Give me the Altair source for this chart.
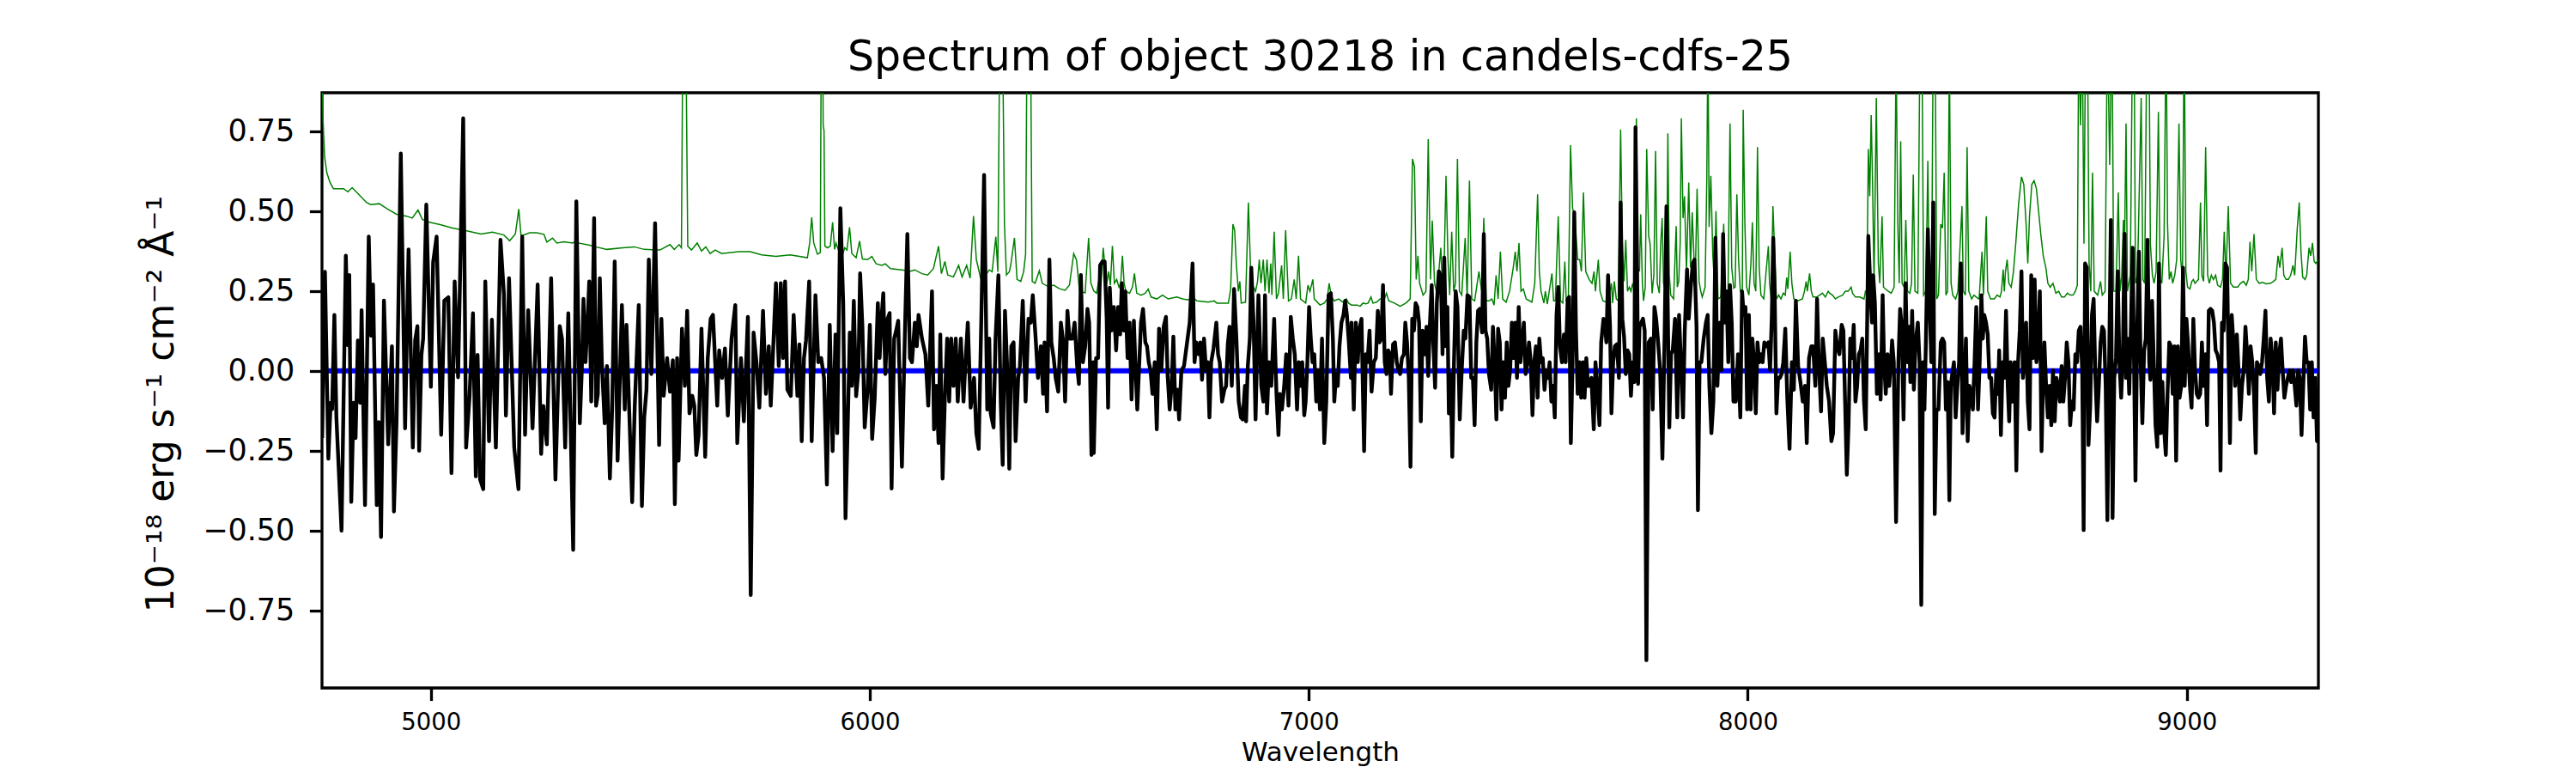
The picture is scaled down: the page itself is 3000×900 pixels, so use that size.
import altair as alt
import pandas as pd

TITLE = "Spectrum of object 30218 in candels-cdfs-25"
X_LABEL = "Wavelength"
Y_LABEL = "10⁻¹⁸ erg s⁻¹ cm⁻² Å⁻¹"
X_TICKS = [5000, 6000, 7000, 8000, 9000]
Y_TICKS = [-0.75, -0.5, -0.25, 0.0, 0.25, 0.5, 0.75]
X_RANGE = [4752, 9300]
Y_RANGE = [-0.992, 0.870]

flux_a = [(4752.3,-0.21),(4758.7,0.31),(4766.5,-0.275),(4771.7,-0.10),(4775.0,-0.12),(4780.2,0.175),(4784.8,-0.146),(4796.5,-0.50),(4806.3,0.36),(4810.9,0.08),(4814.1,0.30),(4818.7,-0.41),(4823.9,-0.10),(4828.5,-0.21),(4833.7,0.095),(4838.9,-0.10),(4842.2,0.19),(4850.0,-0.42),(4858.5,0.42),(4863.7,0.11),(4868.3,0.27),(4876.8,-0.42),(4881.3,-0.16),(4886.5,-0.52),(4893.1,0.22),(4902.8,-0.23),(4911.3,0.077),(4915.9,-0.44),(4921.8,-0.16),(4931.5,0.68),(4941.3,-0.18),(4949.2,0.38),(4958.9,-0.24),(4964.2,0.095),(4969.4,0.14),(4973.3,-0.25),(4978.5,0.05),(4982.4,0.10),(4989.6,0.52),(5000.0,-0.05),(5005.2,0.34),(5013.1,0.42),(5023.5,-0.20),(5030.7,0.22),(5039.8,0.23),(5047.0,-0.32),(5054.2,0.28),(5062.0,-0.02),(5073.7,0.79),(5080.3,-0.24),(5088.1,-0.08),(5095.9,0.18),(5102.4,-0.33),(5106.4,0.05),(5112.2,-0.34),(5119.4,-0.37),(5124.0,0.28),(5132.5,-0.22),(5139.0,0.16),(5148.1,-0.24),(5158.6,0.41),(5166.4,0.24),(5171.0,-0.14),(5178.1,0.29),(5189.9,-0.24),(5199.6,-0.37),(5208.1,0.42),(5214.6,-0.20),(5221.8,0.19),(5231.6,-0.18),(5243.3,0.27),(5251.2,-0.26),(5256.4,-0.11),(5264.2,-0.23),(5274.0,0.29),(5283.8,-0.34),(5293.6,0.14),(5298.8,0.10),(5306.0,-0.24),(5313.1,0.18),(5324.2,-0.56),(5331.4,0.53)]
flux_b = [(5339.3,-0.164),(5343.8,0.0),(5347.7,0.225),(5352.3,0.027),(5356.9,0.15),(5360.8,0.28),(5365.4,-0.096),(5371.9,0.478),(5376.4,-0.109),(5380.4,-0.072),(5384.9,0.29),(5389.5,0.027),(5396.0,-0.164),(5401.2,0.015),(5407.8,-0.337),(5413.0,-0.121),(5418.8,0.342),(5425.4,-0.281),(5435.2,0.206),(5441.7,-0.121),(5445.6,0.144),(5452.1,-0.133),(5458.6,-0.411),(5464.5,-0.109),(5473.6,0.206),(5480.8,-0.423),(5486.0,-0.146),(5491.2,-0.059),(5496.5,0.348),(5502.3,-0.01),(5510.8,0.462),(5520.0,-0.232),(5525.2,0.163),(5530.4,-0.078),(5538.2,0.04),(5544.7,-0.065),(5551.3,0.033),(5555.8,-0.417),(5561.0,0.04),(5564.3,-0.281),(5572.1,0.132),(5578.7,-0.047),(5583.9,0.188),(5589.1,-0.133),(5595.6,-0.078),(5600.2,-0.109),(5604.7,-0.263),(5610.0,-0.201),(5616.5,0.132),(5625.0,-0.269),(5630.8,0.04),(5637.4,0.163),(5642.6,0.175),(5652.4,-0.109),(5656.9,0.064),(5663.5,-0.022),(5670.0,0.07),(5676.5,-0.14),(5685.0,0.101),(5693.5,0.206),(5698.0,-0.226),(5706.5,0.04),(5713.0,-0.158),(5722.2,0.169),(5728.7,-0.701),(5735.2,0.12),(5741.7,0.027),(5748.3,-0.115),(5756.7,0.188),(5763.3,-0.072),(5769.8,0.077),(5774.3,-0.109),(5786.1,0.274),(5792.6,0.015),(5797.2,0.274),(5802.4,0.04),(5807.0,0.28),(5812.2,-0.059),(5820.0,-0.078),(5826.5,0.175),(5835.0,-0.078),(5839.6,0.083),(5844.8,-0.22),(5850.0,0.04),(5854.6,0.095),(5861.8,0.28),(5867.6,-0.22),(5876.1,0.237),(5882.6,0.027),(5889.2,0.04),(5895.7,-0.022),(5902.2,-0.356),(5908.7,0.144),(5915.2,-0.251),(5921.8,0.114)]
flux_c = [(5925.7,-0.195),(5932.9,0.509),(5939.4,0.21),(5944.6,-0.461),(5950.5,-0.121),(5954.4,0.12),(5959.0,-0.047),(5963.5,0.219),(5968.8,-0.079),(5974.0,0.002),(5977.9,0.305),(5983.1,0.138),(5988.3,-0.177),(5994.9,-0.059),(6000.1,0.144),(6005.3,-0.213),(6011.2,-0.084),(6018.3,0.212),(6022.3,0.04),(6026.2,0.157),(6030.7,0.243),(6035.3,-0.01),(6040.5,0.163),(6045.1,0.181),(6049.6,-0.368),(6055.5,0.101),(6060.1,0.126),(6064.6,0.157),(6073.1,-0.30),(6079.6,0.101),(6085.5,0.428),(6091.4,0.04),(6096.0,0.027),(6102.5,0.151),(6107.0,0.077),(6111.0,0.175),(6118.8,0.101),(6126.6,0.052),(6133.1,-0.109),(6141.6,0.249),(6146.2,-0.183),(6151.4,-0.047),(6156.6,-0.226),(6160.5,0.114),(6165.8,-0.337),(6171.0,-0.084),(6176.2,0.101),(6180.8,-0.096),(6185.3,0.101),(6190.5,-0.047),(6195.8,0.101),(6200.3,-0.096),(6207.5,0.101),(6213.4,-0.096),(6217.9,0.027),(6223.2,0.151),(6229.7,-0.115),(6237.5,-0.022),(6242.7,-0.195),(6248.0,-0.244),(6254.5,0.200),(6260.3,0.613),(6267.5,-0.121),(6272.1,0.101),(6275.3,-0.133),(6281.9,-0.177),(6286.4,0.101),(6292.9,0.299),(6298.2,-0.096),(6302.7,-0.294),(6307.9,0.188),(6312.5,0.027),(6317.7,-0.306),(6322.3,0.077),(6327.5,0.089),(6332.1,-0.22),(6338.0,-0.022),(6341.9,0.015),(6348.4,0.219),(6354.9,-0.096),(6361.4,0.163),(6366.7,0.151),(6371.2,0.237),(6377.8,0.101),(6383.0,-0.022),(6389.5,0.077),(6394.7,-0.072),(6398.0,0.089),(6403.8,-0.127),(6409.1,0.348),(6413.6,0.089),(6418.9,0.04),(6423.4,-0.022),(6429.3,-0.065),(6435.2,0.151),(6439.7,0.101),(6444.9,-0.096),(6450.2,0.188),(6454.7,0.101),(6461.3,0.101),(6466.5,0.151),(6472.3,0.015),(6476.3,-0.041),(6480.8,0.30),(6485.4,0.027),(6490.6,0.077),(6495.8,0.194),(6499.7,0.151),(6504.9,-0.263),(6508.9,0.027)]
flux_d = [(6510.2,-0.257),(6515.4,0.04),(6520.0,0.04),(6524.6,0.33),(6529.8,0.342),(6535.0,0.342),(6539.6,0.163),(6542.8,-0.115),(6546.7,0.26),(6550.6,0.126),(6555.9,0.2),(6561.1,0.064),(6565.6,0.2),(6570.2,0.114),(6574.1,0.274),(6578.7,0.126),(6582.0,0.249),(6587.2,0.04),(6591.7,0.151),(6596.3,-0.09),(6601.5,0.157),(6604.8,0.027),(6609.3,-0.121),(6613.3,0.009),(6617.8,0.151),(6622.4,0.194),(6627.6,0.089),(6631.5,0.077),(6635.4,0.027),(6639.4,0.002),(6643.9,-0.072),(6649.1,0.027),(6653.7,-0.183),(6658.9,0.132),(6664.1,0.002),(6669.4,0.138),(6674.6,0.169),(6678.5,-0.016),(6683.1,-0.121),(6687.6,-0.047),(6691.5,0.107),(6696.1,-0.121),(6700.7,-0.059),(6704.6,-0.152),(6709.8,0.002),(6715.7,0.015),(6722.2,0.083),(6728.7,0.151),(6735.2,0.336),(6739.8,0.027),(6743.7,0.089),(6749.0,0.052),(6752.9,0.089),(6756.8,-0.028),(6761.3,0.101),(6765.9,0.002),(6769.8,0.027),(6773.7,-0.146),(6777.6,0.027),(6782.9,0.07),(6789.4,0.151),(6793.3,0.052),(6797.2,0.027),(6802.4,-0.096),(6807.7,-0.059),(6811.6,-0.047),(6815.5,0.083),(6819.4,0.138),(6824.6,-0.047),(6829.8,0.256),(6835.1,0.101),(6840.3,-0.096),(6845.5,-0.146),(6849.4,-0.152),(6854.6,-0.047),(6857.2,-0.158),(6861.1,0.015),(6865.7,0.101),(6869.0,0.323),(6874.2,0.151),(6878.7,-0.152),(6885.3,0.237),(6891.8,-0.047),(6896.4,-0.096),(6900.3,0.237),(6904.8,-0.133),(6909.4,0.027),(6914.6,-0.047),(6921.1,0.163),(6926.4,-0.072),(6930.9,-0.201),(6934.2,-0.072),(6938.8,-0.121),(6944.0,-0.047),(6948.5,0.052),(6953.8,-0.109),(6959.0,0.169),(6963.6,0.101),(6968.1,0.052),(6973.3,-0.121),(6977.3,0.027),(6981.2,-0.047),(6985.1,0.027),(6989.6,-0.139),(6992.9,-0.096),(6996.8,0.027),(7000.7,0.2),(7004.6,0.101),(7008.6,0.027),(7012.5,0.052),(7017.0,-0.096),(7020.9,0.002),(7025.5,-0.121),(7030.1,0.101),(7035.3,-0.226),(7039.9,-0.096),(7045.1,0.237),(7050.3,0.243),(7054.9,0.101),(7058.1,-0.096),(7062.1,-0.01),(7066.0,-0.047),(7069.9,0.077),(7074.4,0.151),(7079.0,0.175),(7082.9,0.219),(7086.8,0.175),(7090.7,0.101),(7096.0,-0.022)]
flux_e = [(7097.3,0.151),(7102.5,-0.121),(7107.1,0.151),(7111.6,0.027),(7115.6,0.132),(7120.1,0.163),(7126.0,-0.251),(7129.9,0.052),(7133.8,0.027),(7138.4,0.126),(7143.0,-0.065),(7148.2,0.027),(7152.7,0.04),(7157.3,0.188),(7161.2,0.089),(7165.1,0.101),(7169.1,0.268),(7173.0,0.027),(7176.9,-0.01),(7180.8,0.064),(7184.7,0.052),(7187.3,-0.072),(7191.9,0.083),(7196.4,0.089),(7200.4,0.027),(7204.3,0.002),(7208.2,-0.01),(7212.1,0.04),(7216.7,0.052),(7219.9,0.151),(7223.8,0.089),(7227.8,-0.022),(7231.7,-0.30),(7235.6,0.163),(7239.5,0.126),(7243.4,0.212),(7247.3,0.2),(7251.2,0.151),(7255.2,-0.158),(7259.1,0.126),(7264.3,0.052),(7268.2,0.138),(7272.1,-0.016),(7276.0,0.151),(7280.0,0.268),(7283.2,0.101),(7287.8,-0.053),(7291.7,0.212),(7296.2,0.311),(7300.8,0.298),(7304.7,0.052),(7308.6,0.354),(7312.6,0.077),(7315.8,0.2),(7319.1,-0.133),(7323.0,-0.01),(7326.9,-0.269),(7330.8,0.027),(7334.7,0.249),(7338.7,0.2),(7343.9,-0.152),(7348.4,0.002),(7353.0,0.126),(7356.9,0.101),(7361.5,0.237),(7366.0,0.231),(7370.0,-0.022),(7373.9,-0.022),(7377.8,-0.170),(7381.7,0.089),(7385.6,0.188),(7389.5,0.194),(7394.8,0.12),(7398.7,0.428),(7402.6,0.126),(7406.5,0.101),(7410.4,-0.01),(7415.6,-0.059),(7419.5,0.138),(7423.5,0.027),(7427.4,-0.152),(7431.3,0.132),(7435.2,0.089),(7439.1,-0.121),(7443.0,0.027),(7447.0,-0.084),(7450.9,0.089),(7454.8,-0.047),(7458.7,0.002),(7462.6,0.151),(7466.5,0.04),(7470.4,0.151),(7474.3,-0.022),(7478.2,0.2),(7482.2,0.027),(7486.1,0.089),(7490.0,0.151),(7493.9,-0.01),(7497.8,0.027),(7501.7,0.089),(7505.6,0.027),(7509.6,-0.139),(7513.5,0.027),(7517.4,0.077),(7521.3,-0.084),(7525.2,0.101),(7529.1,0.027),(7533.0,0.04),(7537.0,-0.059),(7540.9,0.002),(7544.8,-0.022),(7548.7,0.027),(7552.6,-0.096),(7556.5,-0.047),(7560.4,-0.146),(7564.4,0.175),(7568.3,0.262),(7572.2,0.077),(7576.7,0.027),(7581.3,0.114),(7585.2,0.027),(7589.8,0.225),(7593.1,0.231),(7597.0,-0.226),(7600.9,0.027),(7604.8,0.496),(7608.7,0.126),(7612.6,-0.072),(7616.5,0.027),(7620.5,-0.084),(7624.4,0.027),(7628.3,-0.084),(7632.2,0.04),(7636.1,-0.047),(7640.0,-0.047),(7643.9,-0.022),(7649.2,-0.183),(7653.1,0.027),(7657.0,-0.047),(7662.2,-0.170),(7666.1,0.089),(7671.3,0.163),(7675.2,0.138),(7677.9,0.089),(7681.8,0.299)]
flux_f = [(7686.3,0.138),(7689.5,-0.133),(7693.4,0.027),(7697.3,0.077),(7701.9,0.083),(7706.5,-0.022),(7710.4,0.527),(7714.3,0.163),(7718.2,0.107),(7722.1,-0.01),(7726.1,0.064),(7730.0,0.052),(7733.9,-0.078),(7737.8,0.027),(7741.7,-0.035),(7744.3,0.762),(7747.6,0.373),(7750.2,-0.041),(7753.4,0.138),(7757.4,0.151),(7761.3,0.163),(7765.2,0.126),(7769.1,-0.905),(7774.3,0.089),(7779.5,0.101),(7783.5,-0.121),(7787.4,0.2),(7791.3,0.163),(7795.2,0.101),(7800.4,0.002),(7805.6,-0.275),(7810.8,0.126),(7814.8,0.515),(7818.7,0.101),(7821.3,-0.177),(7825.2,0.052),(7829.1,0.064),(7834.3,0.163),(7839.5,-0.146),(7843.5,0.175),(7847.4,0.04),(7852.6,-0.146),(7856.5,0.126),(7861.7,0.317),(7865.6,0.163),(7870.2,0.262),(7874.8,0.336),(7878.7,0.348),(7883.3,0.138),(7886.5,-0.436),(7890.4,0.027),(7894.3,0.027),(7899.6,0.101),(7904.8,0.151),(7908.7,0.175),(7912.6,-0.047),(7917.2,-0.195),(7921.7,-0.096),(7926.3,0.416),(7930.9,-0.047),(7936.1,0.151),(7940.0,0.002),(7943.9,0.428),(7947.8,0.151),(7951.7,0.249),(7955.7,0.027),(7959.6,0.268),(7963.5,0.151),(7967.4,-0.096),(7972.6,-0.096),(7977.8,0.052),(7983.1,-0.146),(7987.0,0.249),(7990.9,0.175),(7994.8,0.2),(7998.7,-0.121),(8002.6,0.175),(8006.5,-0.121),(8010.5,0.101),(8014.4,0.027),(8018.3,-0.133),(8022.2,0.089),(8026.1,0.027),(8030.0,0.052),(8033.9,0.027),(8037.8,0.089),(8041.8,0.077),(8047.0,0.089),(8050.9,0.002),(8054.8,0.169),(8058.1,0.416),(8061.3,0.249),(8065.3,-0.133),(8069.2,-0.022),(8073.1,-0.022),(8077.0,-0.01),(8080.9,0.027),(8085.5,0.132),(8090.0,-0.084),(8095.2,-0.244),(8100.5,0.027),(8105.0,-0.059),(8109.6,0.219),(8114.8,0.015),(8120.0,-0.035),(8125.3,-0.096),(8130.5,-0.047),(8134.4,-0.226),(8139.6,0.04),(8144.8,0.077),(8148.7,0.077),(8154.0,-0.047),(8157.9,0.225),(8161.8,0.027),(8167.0,-0.127),(8170.9,0.101),(8174.8,0.04),(8180.1,-0.047),(8185.3,-0.096),(8190.5,-0.22),(8194.4,-0.195),(8199.6,0.126),(8203.5,0.077),(8208.8,0.052),(8214.0,0.144),(8217.9,0.126),(8222.4,-0.133),(8225.7,-0.325),(8229.6,-0.17),(8233.5,0.101),(8237.5,0.04),(8241.4,0.144),(8245.3,-0.096),(8249.2,-0.047),(8253.1,0.052),(8257.0,0.064),(8260.9,0.101),(8264.9,-0.096),(8268.8,-0.183)]
flux_g = [(8274.7,0.422),(8277.9,0.311),(8281.2,0.2),(8283.1,0.151),(8285.8,0.299),(8289.7,0.212),(8294.2,-0.072),(8298.8,0.052),(8302.7,-0.09),(8307.3,0.237),(8310.5,0.027),(8314.4,-0.072),(8318.4,0.052),(8322.3,-0.047),(8326.2,0.027),(8328.8,0.095),(8332.7,0.027),(8337.9,-0.473),(8343.2,0.027),(8347.1,0.194),(8351.0,0.138),(8354.9,-0.152),(8359.5,0.274),(8363.4,0.027),(8367.3,0.138),(8370.5,-0.035),(8374.5,0.188),(8378.4,-0.059),(8382.3,0.089),(8387.5,0.151),(8391.4,0.027),(8395.3,-0.732),(8399.3,0.027),(8402.5,-0.121),(8405.8,0.089),(8410.3,0.443),(8414.3,0.212),(8418.2,0.027),(8422.7,0.527),(8426.0,-0.448),(8429.9,-0.121),(8434.5,-0.121),(8439.7,0.089),(8443.6,0.101),(8447.5,0.089),(8451.4,-0.121),(8455.3,-0.035),(8459.3,-0.405),(8462.5,-0.047),(8465.8,-0.01),(8469.7,0.027),(8473.6,-0.146),(8477.5,-0.047),(8481.4,0.027),(8485.4,0.336),(8489.3,-0.195),(8493.2,-0.047),(8497.1,0.101),(8501.0,-0.22),(8504.9,-0.047),(8508.8,-0.072),(8512.8,-0.121),(8516.7,0.027),(8520.6,0.2),(8524.5,-0.121),(8528.4,0.027),(8532.3,0.237),(8535.6,0.101),(8538.8,0.175),(8542.8,0.151),(8546.7,0.114),(8550.6,-0.022),(8554.5,-0.022),(8558.4,-0.133),(8562.3,-0.146),(8566.2,0.002),(8570.2,-0.072),(8572.8,0.064),(8576.7,-0.201),(8580.6,0.027),(8584.5,-0.022),(8588.4,0.188),(8592.3,-0.047),(8595.6,-0.158),(8598.9,0.027),(8602.8,-0.096),(8608.0,0.027),(8611.9,-0.312),(8615.8,0.027),(8619.7,0.126),(8623.6,0.311),(8626.9,-0.022),(8630.2,0.04),(8634.1,0.151),(8638.0,-0.096),(8641.9,-0.183),(8645.8,0.299),(8649.7,0.04),(8653.6,0.286),(8657.6,0.027),(8661.5,0.077),(8665.4,0.249),(8669.3,-0.251),(8673.2,0.002),(8675.8,0.089),(8679.7,-0.047),(8683.7,-0.146),(8687.6,-0.047),(8691.5,-0.17),(8695.4,0.002),(8699.3,-0.158),(8703.2,-0.022),(8707.1,-0.047),(8711.0,-0.096),(8715.0,0.015),(8718.9,-0.096),(8722.8,-0.022),(8726.7,0.089),(8730.6,0.027),(8734.5,-0.17),(8738.5,-0.096),(8742.4,-0.121),(8746.3,0.052),(8750.2,0.027),(8754.1,0.126),(8758.0,0.138),(8761.9,0.002),(8765.2,-0.498),(8768.5,0.336),(8772.4,0.323),(8776.3,-0.232),(8780.2,-0.109),(8784.1,0.175),(8788.0,0.225),(8792.0,-0.022),(8795.9,-0.158),(8799.8,-0.047),(8803.7,0.089),(8807.6,0.138),(8811.5,0.126),(8815.4,-0.047),(8819.3,-0.467),(8823.3,0.027),(8827.2,0.472),(8831.1,-0.46),(8835.0,-0.022),(8838.9,0.04),(8842.8,0.311),(8846.7,0.027),(8850.7,-0.084),(8854.6,0.052)]
flux_h = [(8858.5,0.429),(8861.8,-0.022),(8865.0,0.101),(8869.0,-0.072),(8872.9,0.138),(8876.8,0.385),(8880.0,0.027),(8883.3,-0.343),(8887.2,0.126),(8891.1,0.373),(8895.0,0.027),(8899.0,-0.164),(8902.9,0.064),(8906.8,0.101),(8910.7,0.41),(8914.6,0.027),(8917.2,-0.028),(8921.1,0.219),(8925.0,0.027),(8929.0,-0.17),(8932.9,-0.238),(8936.8,0.336),(8940.7,-0.195),(8944.6,-0.035),(8948.5,-0.182),(8952.4,-0.263),(8956.3,-0.072),(8960.3,0.089),(8964.2,0.077),(8968.1,-0.072),(8972.0,0.077),(8975.9,-0.281),(8979.8,0.077),(8983.7,-0.084),(8987.7,-0.047),(8991.6,0.323),(8995.5,-0.047),(8999.4,0.163),(9003.3,0.077),(9007.2,-0.047),(9011.1,-0.115),(9015.1,0.163),(9019.0,0.002),(9022.9,-0.072),(9026.8,-0.084),(9030.7,-0.072),(9034.6,0.089),(9038.5,-0.047),(9042.5,0.052),(9046.4,-0.17),(9050.3,0.188),(9054.2,0.194),(9058.1,0.188),(9062.0,0.151),(9065.9,0.064),(9069.8,0.052),(9073.8,0.027),(9077.0,-0.312),(9080.3,0.151),(9084.2,0.126),(9088.1,0.336),(9092.0,0.323),(9094.6,0.089),(9098.5,-0.226),(9102.5,0.175),(9106.4,0.089),(9110.3,-0.047),(9114.2,0.114),(9118.1,0.002),(9122.0,-0.152),(9125.9,-0.047),(9129.9,0.002),(9133.8,0.138),(9137.7,0.052),(9141.6,-0.072),(9145.5,0.077),(9149.4,0.027),(9153.3,-0.072),(9157.3,-0.257),(9159.9,0.027),(9163.8,0.015),(9167.7,-0.01),(9171.6,0.027),(9175.5,0.101),(9179.4,0.188),(9183.3,-0.022),(9187.3,-0.096),(9191.2,0.101),(9195.1,0.04),(9199.0,-0.133),(9202.9,0.089),(9206.8,-0.059),(9210.7,0.052),(9214.7,0.101),(9218.6,0.002),(9222.5,-0.084),(9226.4,-0.047),(9230.3,-0.022),(9234.2,0.002),(9238.1,-0.035),(9242.1,0.002),(9246.0,-0.047),(9249.9,-0.109),(9253.8,0.002),(9257.7,-0.022),(9261.6,-0.201),(9265.5,-0.047),(9269.5,0.107),(9273.4,0.027),(9277.3,0.027),(9281.2,-0.121),(9285.1,0.027),(9289.0,-0.146),(9292.9,-0.022),(9296.8,-0.22),(9299.5,-0.195)]

# ---- noise / error spectrum (green) ----
noise_a = [(4752.3,0.95),(4754.5,0.78),(4758.0,0.67),(4763.0,0.62),(4770.0,0.59),(4778.0,0.57),(4801.1,0.57),(4810.9,0.56),(4820.7,0.573),(4833.7,0.555),(4853.3,0.527),(4863.1,0.52),(4882.6,0.523),(4898.9,0.508),(4921.8,0.49),(4944.6,0.484),(4957.6,0.478),(4970.7,0.503),(4980.5,0.474),(4996.8,0.465),(5022.9,0.457),(5049.0,0.447),(5075.1,0.44),(5114.2,0.428),(5140.3,0.434),(5166.4,0.425),(5179.4,0.407),(5192.5,0.428),(5200.3,0.506),(5205.5,0.422),(5225.1,0.432),(5241.4,0.432),(5257.7,0.427),(5264.2,0.403),(5277.3,0.415),(5287.0,0.40),(5303.4,0.404),(5322.9,0.40),(5332.7,0.407)]
noise_b = [(5336.0,0.40),(5362.1,0.393),(5375.1,0.388),(5401.2,0.38),(5437.1,0.385),(5463.2,0.388),(5486.0,0.38),(5521.9,0.378),(5544.7,0.395),(5554.5,0.38),(5565.6,0.395),(5570.8,0.385),(5574.7,1.2),(5580.0,1.2),(5585.2,0.39),(5593.7,0.378),(5606.7,0.40),(5616.5,0.375),(5626.3,0.388),(5636.1,0.367),(5647.8,0.378),(5662.2,0.367),(5701.3,0.373),(5727.4,0.373),(5753.5,0.363),(5786.1,0.358),(5818.7,0.363),(5857.8,0.354),(5863.0,0.40),(5867.6,0.48),(5872.2,0.40),(5880.7,0.365),(5887.2,0.37),(5889.8,1.2),(5892.4,1.2),(5893.7,0.77),(5895.7,0.75),(5897.6,0.39),(5903.5,0.385),(5910.0,0.39),(5915.2,0.465),(5919.8,0.38)]
noise_c = [(5923.1,0.40),(5929.6,0.373),(5937.5,0.36),(5942.7,0.385),(5947.9,0.378),(5953.8,0.449),(5959.0,0.367),(5968.8,0.354),(5976.6,0.406),(5983.1,0.35),(5994.9,0.348),(6004.6,0.358),(6014.4,0.335),(6027.5,0.33),(6035.3,0.335),(6047.0,0.32),(6073.1,0.316),(6092.7,0.312),(6102.5,0.316),(6118.8,0.304),(6131.8,0.30),(6144.9,0.32),(6156.6,0.39),(6163.1,0.304),(6171.0,0.342),(6177.5,0.30),(6190.5,0.294),(6202.3,0.33),(6210.1,0.294),(6220.6,0.33),(6228.4,0.29),(6236.2,0.484),(6242.7,0.348),(6252.5,0.29),(6262.3,0.296),(6272.1,0.316),(6278.6,0.31),(6287.1,0.42),(6291.6,0.31),(6296.9,1.2),(6301.4,1.2),(6306.7,0.46),(6311.2,0.30),(6317.7,0.31),(6321.0,0.33),(6329.5,0.416),(6335.4,0.286),(6343.8,0.28),(6350.4,0.31),(6354.9,0.365),(6358.8,1.2),(6365.4,1.2),(6369.9,0.28),(6376.5,0.274),(6386.2,0.313),(6392.8,0.274),(6405.8,0.264),(6418.9,0.268),(6431.9,0.257),(6444.9,0.252),(6454.7,0.268),(6464.5,0.367),(6471.0,0.346),(6477.6,0.25),(6490.6,0.244),(6498.4,0.416),(6503.6,0.274),(6510.2,0.25)]
noise_d = [(6516.7,0.243),(6521.9,0.286),(6526.5,0.267),(6531.7,0.385),(6535.0,0.336),(6539.6,0.274),(6544.1,0.311),(6548.0,0.268),(6552.6,0.391),(6557.2,0.274),(6562.4,0.286),(6567.6,0.262),(6571.5,0.274),(6575.4,0.36),(6579.3,0.274),(6583.3,0.249),(6591.7,0.243),(6598.3,0.262),(6602.8,0.305),(6608.0,0.243),(6617.8,0.237),(6627.6,0.243),(6634.1,0.256),(6640.7,0.231),(6653.7,0.225),(6666.8,0.237),(6679.8,0.225),(6699.4,0.231),(6712.4,0.225),(6725.5,0.222),(6735.2,0.231),(6745.0,0.219),(6771.1,0.215),(6784.2,0.219),(6790.7,0.212),(6816.8,0.212),(6822.0,0.256),(6827.2,0.459),(6831.1,0.44),(6835.1,0.33),(6839.6,0.249),(6842.9,0.28),(6846.1,0.212),(6855.9,0.215),(6862.4,0.527),(6867.6,0.309),(6872.1,0.267),(6878.7,0.249),(6883.3,0.28),(6887.2,0.348),(6891.1,0.274),(6896.4,0.348),(6900.3,0.249),(6904.8,0.348),(6909.4,0.243),(6913.3,0.336),(6915.9,0.237),(6921.1,0.435),(6926.4,0.225),(6930.9,0.243),(6938.1,0.33),(6942.0,0.225),(6947.2,0.44),(6953.8,0.219),(6960.3,0.225),(6966.8,0.286),(6971.4,0.225),(6976.6,0.36),(6981.2,0.225),(6992.9,0.212),(6998.1,0.268),(7002.7,0.249),(7009.2,0.286),(7012.5,0.225),(7025.5,0.206),(7035.3,0.212),(7041.8,0.225),(7046.4,0.274),(7051.6,0.231),(7058.1,0.219),(7067.9,0.225),(7077.7,0.215),(7085.5,0.225),(7090.7,0.212),(7097.3,0.206)]
noise_e = [(7110.3,0.206),(7116.9,0.202),(7123.4,0.212),(7129.9,0.21),(7135.1,0.212),(7141.7,0.231),(7146.2,0.212),(7154.7,0.215),(7162.5,0.225),(7172.3,0.225),(7176.9,0.243),(7182.1,0.219),(7195.1,0.212),(7208.2,0.202),(7221.2,0.212),(7231.0,0.225),(7236.2,0.663),(7240.8,0.638),(7244.7,0.286),(7248.6,0.36),(7252.5,0.274),(7260.4,0.237),(7266.9,0.249),(7272.1,0.725),(7277.3,0.286),(7281.3,0.47),(7286.5,0.274),(7291.7,0.243),(7296.2,0.311),(7300.8,0.385),(7304.7,0.249),(7308.6,0.348),(7312.6,0.61),(7317.1,0.348),(7321.0,0.237),(7325.6,0.435),(7330.2,0.249),(7334.1,0.274),(7338.7,0.663),(7343.2,0.249),(7348.4,0.237),(7356.3,0.416),(7360.8,0.225),(7366.0,0.595),(7371.3,0.225),(7377.8,0.219),(7387.6,0.311),(7394.1,0.249),(7398.7,0.478),(7403.9,0.219),(7410.4,0.219),(7416.9,0.225),(7422.1,0.206),(7426.7,0.299),(7431.3,0.225),(7436.5,0.373),(7441.7,0.225),(7449.5,0.215),(7457.4,0.249),(7465.8,0.323),(7470.4,0.373),(7474.3,0.311),(7478.9,0.40),(7483.5,0.249),(7488.7,0.256),(7495.2,0.225),(7508.3,0.215),(7514.8,0.274),(7521.3,0.552),(7525.2,0.311),(7529.1,0.249),(7535.6,0.212),(7538.9,0.249),(7543.5,0.209),(7553.9,0.305),(7557.8,0.219),(7561.7,0.219),(7568.3,0.484),(7573.5,0.219),(7578.7,0.212),(7583.3,0.342),(7586.5,0.219),(7591.1,0.206),(7596.3,0.706),(7600.9,0.509),(7606.1,0.484),(7612.6,0.348),(7617.2,0.348),(7621.1,0.311),(7625.7,0.558),(7630.9,0.311),(7638.7,0.286),(7645.2,0.274),(7649.8,0.311),(7653.1,0.249),(7659.6,0.348),(7663.5,0.249),(7670.0,0.219),(7677.9,0.215),(7684.4,0.237)]
noise_f = [(7689.5,0.274),(7692.1,0.212),(7696.0,0.28),(7700.6,0.225),(7705.2,0.219),(7710.4,0.755),(7714.3,0.397),(7718.2,0.28),(7722.1,0.41),(7726.1,0.249),(7730.0,0.262),(7733.9,0.249),(7737.8,0.274),(7741.7,0.249),(7746.3,0.79),(7749.5,0.323),(7753.4,0.311),(7756.1,0.49),(7760.0,0.274),(7762.6,0.219),(7766.5,0.262),(7769.8,0.694),(7774.3,0.422),(7777.6,0.397),(7782.1,0.243),(7786.1,0.30),(7790.0,0.688),(7793.9,0.274),(7798.5,0.243),(7801.7,0.397),(7805.0,0.478),(7808.2,0.274),(7814.8,0.237),(7818.0,0.743),(7821.3,0.299),(7824.5,0.237),(7831.1,0.225),(7836.9,0.453),(7839.5,0.262),(7842.8,0.28),(7846.1,0.40),(7848.7,0.79),(7852.6,0.478),(7855.9,0.546),(7860.4,0.311),(7865.6,0.589),(7869.6,0.323),(7873.5,0.496),(7878.0,0.336),(7881.3,0.348),(7884.6,0.57),(7889.1,0.28),(7893.0,0.249),(7896.3,0.231),(7902.8,0.262),(7906.7,0.60),(7909.3,1.05),(7912.0,0.45),(7915.9,0.61),(7920.4,0.361),(7924.3,0.274),(7927.6,0.50),(7932.2,0.225),(7938.7,0.231),(7945.2,0.46),(7949.1,0.225),(7955.0,0.237),(7959.6,0.774),(7963.5,0.323),(7968.1,0.259),(7971.3,0.262),(7975.2,0.552),(7979.1,0.348),(7983.1,0.249),(7987.6,0.237),(7989.6,0.817),(7993.5,0.459),(7997.4,0.262),(8002.6,0.237),(8007.2,0.336),(8010.5,0.465),(8014.4,0.274),(8018.3,0.249),(8022.2,0.70),(8026.1,0.323),(8030.0,0.237),(8036.5,0.225),(8041.8,0.311),(8047.0,0.39),(8049.6,0.274),(8053.5,0.225),(8057.4,0.515),(8061.3,0.37),(8065.3,0.225),(8070.5,0.237),(8075.7,0.225),(8080.9,0.243),(8085.5,0.237),(8088.7,0.292),(8091.3,0.256),(8094.0,0.316),(8096.6,0.373),(8100.5,0.274),(8105.0,0.225),(8114.8,0.219),(8124.6,0.225),(8129.2,0.249),(8133.1,0.28),(8135.7,0.249),(8140.9,0.305),(8144.8,0.249),(8148.7,0.231),(8157.2,0.231),(8163.7,0.237),(8170.3,0.243),(8176.8,0.231),(8183.3,0.249),(8186.6,0.243),(8193.1,0.237),(8199.6,0.225),(8206.1,0.231),(8215.9,0.237),(8222.4,0.249),(8229.0,0.249),(8235.5,0.262),(8238.8,0.243),(8245.3,0.231),(8255.1,0.231),(8264.9,0.225),(8268.1,0.249)]
noise_g = [(8271.4,0.249),(8274.7,0.694),(8277.9,0.546),(8281.2,0.80),(8284.4,0.583),(8287.7,0.274),(8292.9,0.854),(8297.5,0.336),(8300.8,0.274),(8306.0,0.484),(8309.2,0.262),(8313.8,0.256),(8320.3,0.249),(8326.8,0.243),(8333.4,0.262),(8337.9,1.0),(8341.9,0.459),(8345.1,0.274),(8348.4,0.718),(8351.6,0.274),(8356.2,0.262),(8360.1,0.472),(8364.0,0.249),(8369.2,0.243),(8373.2,0.274),(8377.1,0.614),(8381.0,0.249),(8387.5,0.243),(8392.7,1.1),(8396.6,1.1),(8400.6,0.237),(8405.8,0.249),(8410.3,0.657),(8413.6,0.237),(8418.8,0.256),(8422.7,1.1),(8426.6,1.1),(8430.6,0.225),(8434.5,0.237),(8439.7,0.459),(8443.6,0.447),(8447.5,0.62),(8451.4,0.237),(8455.3,0.249),(8459.3,1.0),(8463.2,0.274),(8467.1,0.237),(8473.6,0.225),(8478.8,0.249),(8488.0,0.515),(8491.2,0.249),(8495.8,0.237),(8499.7,0.70),(8503.6,0.249),(8510.1,0.225),(8515.4,0.237),(8520.6,0.231),(8527.1,0.225),(8533.6,0.373),(8536.9,0.237),(8543.4,0.484),(8546.7,0.249),(8553.2,0.225),(8561.7,0.225),(8568.2,0.237),(8574.7,0.231),(8578.0,0.249),(8581.9,0.317),(8584.5,0.249),(8587.1,0.311),(8591.0,0.348),(8594.9,0.274),(8600.2,0.262),(8605.4,0.311),(8610.6,0.40),(8617.1,0.523),(8623.6,0.607),(8628.9,0.583),(8634.1,0.459),(8638.0,0.336),(8641.9,0.484),(8647.1,0.583),(8652.3,0.595),(8657.6,0.57),(8662.8,0.496),(8668.0,0.422),(8673.2,0.36),(8679.1,0.323),(8683.7,0.274),(8688.9,0.262),(8695.4,0.274),(8701.9,0.243),(8708.4,0.249),(8715.0,0.231),(8721.5,0.231),(8728.0,0.243),(8734.5,0.237),(8741.0,0.237),(8746.3,0.249),(8750.8,0.268),(8754.1,1.1),(8758.0,0.768),(8761.9,1.1),(8765.9,0.398),(8769.8,1.1),(8773.7,1.1),(8777.6,0.336),(8781.5,0.249),(8785.4,0.62),(8789.3,0.249),(8797.2,0.237),(8803.7,0.28),(8807.6,0.237),(8814.1,0.249),(8819.3,1.1),(8824.5,0.644),(8829.8,1.1),(8833.7,0.249),(8838.9,0.249),(8844.1,0.558),(8848.0,0.249),(8851.9,0.299),(8855.9,0.472)]
noise_h = [(8858.5,0.40),(8861.8,0.774),(8865.0,0.249),(8871.5,0.299),(8876.8,1.1),(8880.0,1.1),(8883.3,0.274),(8887.9,0.299),(8896.3,0.854),(8900.2,0.286),(8904.2,0.274),(8909.4,1.1),(8913.9,1.1),(8917.2,0.398),(8921.8,0.299),(8925.7,0.274),(8930.3,0.311),(8935.5,0.81),(8939.4,0.286),(8943.3,0.274),(8948.5,0.422),(8953.1,1.1),(8956.3,0.459),(8960.3,0.286),(8964.2,0.311),(8968.1,0.274),(8972.7,0.299),(8977.2,0.348),(8982.4,0.774),(8986.4,0.348),(8990.3,0.286),(8994.2,1.1),(8998.1,0.311),(9002.0,0.262),(9007.2,0.256),(9011.8,0.28),(9015.1,0.286),(9019.0,0.274),(9022.9,0.28),(9026.8,0.286),(9031.4,0.527),(9034.6,0.299),(9038.5,0.28),(9043.1,0.70),(9047.7,0.299),(9051.6,0.274),(9056.1,0.299),(9060.7,0.286),(9065.9,0.299),(9070.5,0.268),(9077.0,0.262),(9081.6,0.286),(9085.5,0.435),(9089.4,0.286),(9094.6,0.515),(9099.9,0.274),(9106.4,0.262),(9116.2,0.262),(9122.7,0.274),(9129.2,0.28),(9135.7,0.268),(9140.3,0.286),(9144.2,0.404),(9148.1,0.311),(9153.3,0.428),(9158.6,0.286),(9165.1,0.274),(9172.9,0.277),(9181.4,0.272),(9191.2,0.274),(9197.7,0.28),(9202.9,0.286),(9208.1,0.36),(9212.1,0.323),(9217.3,0.385),(9221.2,0.299),(9226.4,0.286),(9231.6,0.286),(9236.8,0.299),(9242.1,0.33),(9246.0,0.299),(9251.8,0.445),(9256.4,0.527),(9260.3,0.373),(9264.2,0.293),(9269.5,0.286),(9273.4,0.299),(9278.6,0.385),(9282.5,0.36),(9286.5,0.40),(9290.4,0.342),(9294.2,0.336),(9299.5,0.348)]

# ---- model / zero level (blue) ----
model_line = [(4752.3, 0.0), (9299.5, 0.0)]


def frame(segments):
    rows = [pair for seg in segments for pair in seg]
    return pd.DataFrame(rows, columns=["wavelength", "value"])


flux_df = frame([flux_a, flux_b, flux_c, flux_d, flux_e, flux_f, flux_g, flux_h])
noise_df = frame([noise_a, noise_b, noise_c, noise_d, noise_e, noise_f, noise_g, noise_h])
model_df = frame([model_line])

FONT = "DejaVu Sans"

x_enc = alt.X(
    "wavelength:Q",
    scale=alt.Scale(domain=X_RANGE, nice=False, zero=False),
    axis=alt.Axis(
        values=X_TICKS, format="d", grid=False, domain=False,
        labelFont=FONT, labelFontSize=27.5, labelColor="black",
        labelBaseline="alphabetic", labelPadding=34,
        tickColor="black", tickWidth=3.3, tickSize=14.6,
        title=X_LABEL, titleFont=FONT, titleFontSize=31,
        titleFontWeight="normal", titleColor="black",
        titleX=1162.5, titleY=84, titleAlign="center",
        titleBaseline="alphabetic",
    ),
)
y_enc = alt.Y(
    "value:Q",
    scale=alt.Scale(domain=Y_RANGE, nice=False, zero=False),
    axis=alt.Axis(
        values=Y_TICKS, format=".2f", grid=False, domain=False,
        labelExpr="replace(datum.label, '-', '\u2212')",
        labelFont=FONT, labelFontSize=35, labelColor="black",
        labelPadding=17.5,
        tickColor="black", tickWidth=3.3, tickSize=14.6,
        title=Y_LABEL, titleFont=FONT, titleFontSize=44,
        titleFontWeight="normal", titleColor="black",
        titleAngle=270, titleX=-174, titleY=362,
        titleAlign="center", titleBaseline="alphabetic",
    ),
)

noise_layer = alt.Chart(noise_df).mark_line(
    color="green", strokeWidth=1.5, clip=True
).encode(x=x_enc, y=y_enc)

model_layer = alt.Chart(model_df).mark_line(
    color="blue", strokeWidth=6, clip=True
).encode(x=x_enc, y=y_enc)

flux_layer = alt.Chart(flux_df).mark_line(
    color="black", strokeWidth=4.4, clip=True, strokeJoin="round"
).encode(x=x_enc, y=y_enc)

chart = (
    alt.layer(noise_layer, model_layer, flux_layer)
    .properties(
        width=2325,
        height=693,
        padding={"left": 367, "top": 100, "right": 292, "bottom": 91},
        autosize=alt.AutoSizeParams(type="none"),
        background="white",
        title=alt.TitleParams(
            text=TITLE, font=FONT, fontSize=49, fontWeight="normal",
            color="black", anchor="middle", frame="group",
            baseline="alphabetic", offset=23, dy=46,
        ),
    )
    .configure_view(stroke="black", strokeWidth=3.3)
)

chart.save("out.html", embed_options={"renderer": "svg", "actions": False})
